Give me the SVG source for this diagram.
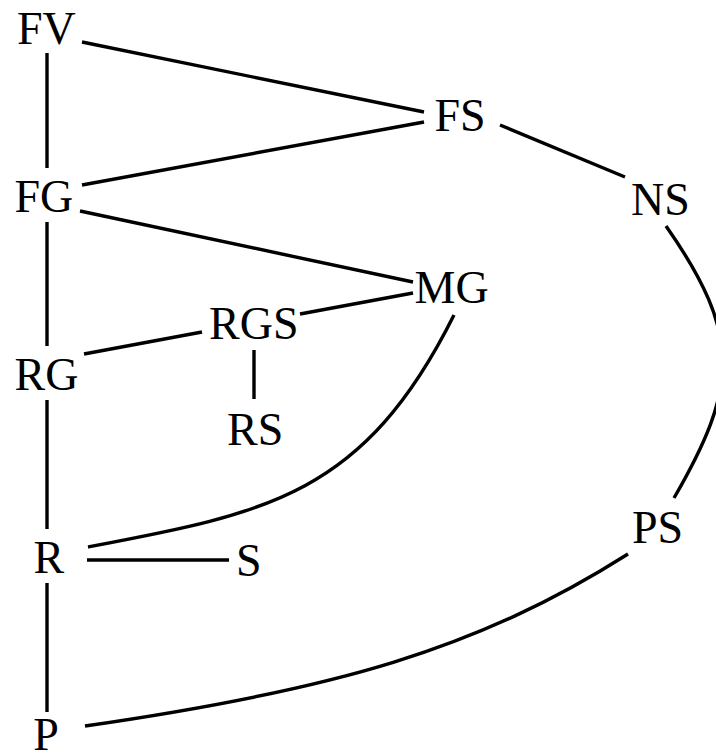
<svg xmlns="http://www.w3.org/2000/svg" width="716" height="754" viewBox="0 0 716 754">
<style>
  text { font-family: "Liberation Serif", "Times New Roman", serif; font-size: 46px; fill: #000; }
  .e { stroke: #000; stroke-width: 3.4; fill: none; }
</style>
<rect width="716" height="754" fill="#fff"/>
<g id="connectors">
  <line class="e" x1="47" y1="53" x2="47" y2="168"/>
  <line class="e" x1="47" y1="222" x2="47" y2="346"/>
  <line class="e" x1="47" y1="400" x2="47" y2="529"/>
  <line class="e" x1="47" y1="583" x2="47" y2="712"/>
  <line class="e" x1="82" y1="42" x2="424" y2="112"/>
  <line class="e" x1="82" y1="185" x2="424" y2="122"/>
  <line class="e" x1="80" y1="211" x2="413" y2="282"/>
  <line class="e" x1="300" y1="314" x2="413" y2="293"/>
  <line class="e" x1="84" y1="354" x2="202" y2="332"/>
  <line class="e" x1="254" y1="350" x2="254" y2="399"/>
  <line class="e" x1="87" y1="560" x2="229" y2="560"/>
  <line class="e" x1="500" y1="125" x2="625" y2="177"/>
  <path class="e" d="M454,315 C364,495 268,513 88,547"/>
  <path class="e" d="M666,226 C743,336 737.5,388 674,498"/>
  <path class="e" d="M628,554 C478,649 335,690 85,726"/>
</g>
<g id="node-FV"><text x="17" y="43.5">FV</text></g>
<g id="node-FS"><text x="434.5" y="131">FS</text></g>
<g id="node-FG"><text x="14.5" y="212">FG</text></g>
<g id="node-NS"><text x="631" y="215">NS</text></g>
<g id="node-MG"><text x="414.5" y="303">MG</text></g>
<g id="node-RGS"><text x="209" y="339">RGS</text></g>
<g id="node-RG"><text x="14.5" y="390">RG</text></g>
<g id="node-RS"><text x="227" y="445">RS</text></g>
<g id="node-R"><text x="33.5" y="573">R</text></g>
<g id="node-S"><text x="236" y="576">S</text></g>
<g id="node-PS"><text x="632" y="543">PS</text></g>
<g id="node-P"><text x="33.3" y="750">P</text></g>
</svg>
